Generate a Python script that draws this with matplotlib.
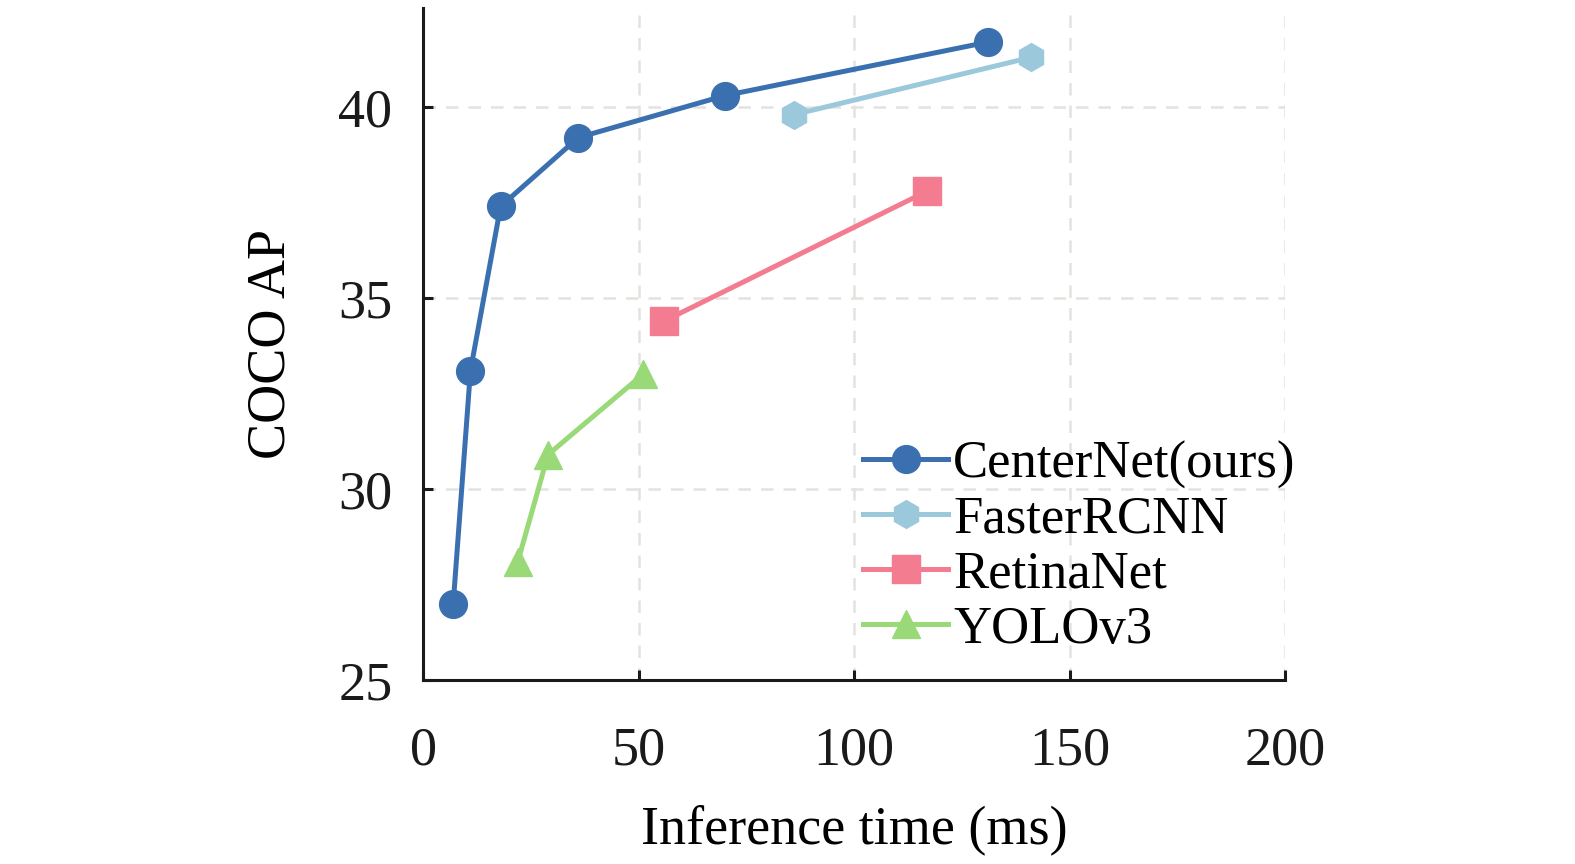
import matplotlib
matplotlib.use('Agg')
import matplotlib.pyplot as plt

# inference time (ms) vs COCO AP
centernet_t = [7, 11, 18, 36, 70, 131]
centernet_ap = [27.0, 33.1, 37.4, 39.2, 40.3, 41.7]
faster_t = [86, 141]
faster_ap = [39.8, 41.3]
retina_t = [56, 117]
retina_ap = [34.4, 37.8]
yolo_t = [22, 29, 51]
yolo_ap = [28.1, 30.9, 33.0]

xticks = [0, 50, 100, 150, 200]
yticks = [25, 30, 35, 40]

plt.rcParams['font.family'] = ['Liberation Serif', 'DejaVu Serif']

fig = plt.figure(figsize=(15.75, 8.64), dpi=100)
ax = fig.add_axes([0.2686, 0.213, 0.5473, 0.778])

lw, ms = 3.6, 20
ax.plot(centernet_t, centernet_ap, '-o', color='#3b70b0', lw=lw, ms=ms, label='CenterNet(ours)', zorder=5)
ax.plot(faster_t, faster_ap, '-h', color='#9cc8dc', lw=lw, ms=ms, label='FasterRCNN', zorder=4)
ax.plot(retina_t, retina_ap, '-s', color='#f47c91', lw=lw, ms=ms, label='RetinaNet', zorder=4)
ax.plot(yolo_t, yolo_ap, '-^', color='#9ad977', lw=lw, ms=ms, label='YOLOv3', zorder=4)

ax.set_xlim(0, 200)
ax.set_ylim(25, 42.6)
ax.set_xticks(xticks)
ax.set_yticks(yticks)
ax.grid(True, ls=(0, (5, 4)), color='#e4e2de', lw=1.8)
ax.set_axisbelow(True)
for s in ['top', 'right']:
    ax.spines[s].set_visible(False)
for s in ['left', 'bottom']:
    ax.spines[s].set_linewidth(2.2)
    ax.spines[s].set_color('#1a1a1a')
ax.tick_params(direction='in', length=7, width=2.2, labelsize=39, pad=22, colors='#1a1a1a')
ax.tick_params(axis='x', pad=33)
ax.set_xlabel('Inference time (ms)', fontsize=39, labelpad=20)
ax.set_ylabel('COCO AP', fontsize=39, labelpad=30)

ax.legend(loc='lower right', bbox_to_anchor=(1.043, 0.0), fontsize=38, frameon=False,
          handlelength=1.6, handletextpad=0.1, labelspacing=0.13, borderaxespad=0.1)

fig.savefig('out.png', dpi=100)
